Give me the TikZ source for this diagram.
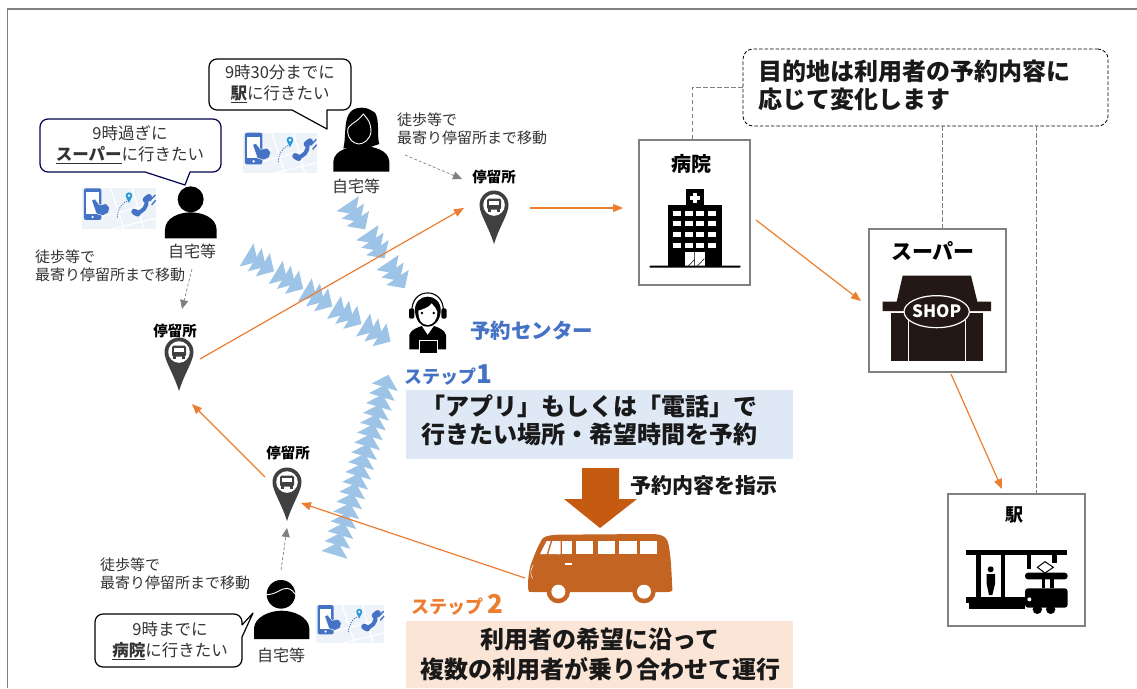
\documentclass[tikz,border=0pt]{standalone}
\usepackage{fontspec}
\setmainfont{Noto Sans CJK JP}
\usetikzlibrary{arrows.meta}
\definecolor{framegray}{HTML}{808080}
\definecolor{lineorange}{HTML}{ED7D31}
\definecolor{tribluecol}{HTML}{9DC3E6}
\definecolor{stepblue}{HTML}{4472C4}
\definecolor{boxblue}{HTML}{DEE9F5}
\definecolor{boxorange}{HTML}{FBE5D6}
\definecolor{busbrown}{HTML}{C46423}
\definecolor{arrowbrown}{HTML}{C55A11}
\definecolor{pindark}{HTML}{404040}
\definecolor{shopdark}{HTML}{231815}
\definecolor{txtdark}{HTML}{333333}
\definecolor{appbg}{HTML}{EEF3FA}
\definecolor{pinblue}{HTML}{2E9BD6}
\newcommand{\fs}[2]{\fontsize{#1}{#2}\selectfont}
\tikzset{
  x=1pt,y=-1pt,
  route/.style={draw=lineorange,line width=1.2pt,-{Triangle[length=10pt,width=8pt]}},
  walkline/.style={draw=framegray,line width=0.7pt,dash pattern=on 3pt off 2pt,-{Triangle[length=9pt,width=8pt]}},
  leader/.style={draw=framegray,line width=0.8pt,dash pattern=on 4.5pt off 2.5pt},
  bldg/.style={draw=framegray,line width=1.5pt,fill=white,inner sep=0pt},
  callout/.style={draw=#1,line width=1.2pt,fill=white,line join=round},
  saytext/.style={font=\fs{16.5}{21},text=txtdark,align=center,inner sep=0pt},
  walktext/.style={font=\fs{15}{18},text=txtdark,align=left,anchor=west,inner sep=0pt},
  hometext/.style={font=\fs{16}{20},text=txtdark,inner sep=0pt},
  stoptext/.style={font=\fs{14.5}{18}\bfseries,inner sep=0pt},
  bigtext/.style={font=\fs{24}{28}\bfseries,inner sep=0pt,align=center,text=black!90},
  pinmark/.style={circle,minimum size=29pt,inner sep=0pt},
}
\newcommand{\bluechain}[4]{%
  \foreach \d in {#4}{%
    \fill[tribluecol,shift={(#1,#2)},rotate=#3] (\d-4,-13.5) -- (\d+9,0) -- (\d-4,13.5) -- cycle;
  }}
\newcommand{\buspin}[3]{%
  \node[pinmark] (#1) at (#2,#3) {};
  \begin{scope}[shift={(#2,#3)}]
    \fill[pindark] (0,-14.5) .. controls (8,-14.5) and (14.5,-8) .. (14.5,0)
      .. controls (14.5,9) and (6,20) .. (0,39)
      .. controls (-6,20) and (-14.5,9) .. (-14.5,0)
      .. controls (-14.5,-8) and (-8,-14.5) .. (0,-14.5) -- cycle;
    \fill[white] (0,0) circle [radius=10.8];
    \fill[pindark,rounded corners=1.5pt] (-7,-6.5) rectangle (7,4.5);
    \fill[white] (-5,-4) rectangle (5,0);
    \fill[pindark] (-6,4) rectangle (-3,7);
    \fill[pindark] (3,4) rectangle (6,7);
  \end{scope}}
\newcommand{\appicon}[3]{%
  \begin{scope}[shift={(#1,#2)},scale=#3]
    \fill[appbg] (0,0) rectangle (220,122);
    \draw[white,line width=1.2pt] (85,0) -- (125,122) (150,0) -- (185,122) (60,85) -- (220,45) (90,122) -- (220,90);
    \fill[stepblue,rounded corners=2pt] (5,0) rectangle (57,95);
    \fill[white] (12,12) rectangle (50,77);
    \fill[white] (31,86) circle [radius=4];
    \fill[stepblue,draw=white,line width=0.5pt] (28,36) -- (38,32) -- (52,50) -- (72,46) -- (82,58) -- (78,74) -- (62,82) -- (42,76) -- cycle;
    \draw[stepblue,line width=0.8pt,dash pattern=on 1.2pt off 1.2pt] (105,88) .. controls (106,62) and (120,42) .. (136,38);
    \fill[pinblue] (140,22) circle [radius=10];
    \fill[pinblue] (132,28) -- (140,44) -- (148,28) -- cycle;
    \fill[white] (140,22) circle [radius=4];
    \draw[stepblue,line width=4pt,line cap=round] (193,35) .. controls (196,55) and (180,74) .. (160,74);
    \draw[stepblue,line width=6pt,line cap=round] (190,34) -- (200,26);
    \draw[stepblue,line width=6pt,line cap=round] (156,70) -- (166,76);
    \draw[stepblue,line width=1.4pt] (202,38) -- (219,20);
    \draw[stepblue,line width=1.4pt] (208,50) -- (220,36);
  \end{scope}}
\begin{document}
\begin{tikzpicture}
\useasboundingbox (0,0) rectangle (1137,688);
\fill[white] (0,0) rectangle (1137,688);
% frame
\draw[framegray,line width=1.6pt] (7.5,688) -- (7.5,9) -- (1137,9);

% signal chains
\bluechain{350}{207}{-56}{0,9,18,35,44,53,71,80,89}
\bluechain{250}{257}{-31}{0,9.5,19,34,43.5,53,68,77.5,87,102,111.5,121,136,145.5,155}
\bluechain{335.6}{551}{73.3}{0,10.3,20.6,30.9,41.2,51.5,61.8,72.1,82.4,92.7,103,113.3,123.6,133.9,144.2,154.5,164.8,175}

% stops
\buspin{pinT}{494}{205}
\buspin{pinL}{179}{352}
\buspin{pinB}{287}{482}
\node[stoptext] (lblT) at (494,177) {停留所};
\node[stoptext] (lblL) at (175,331) {停留所};
\node[stoptext] (lblB) at (288,453) {停留所};

% buildings
\node[bldg,minimum width=111pt,minimum height=145pt] (hosp) at (694.5,212.5) {};
\node[bldg,minimum width=137pt,minimum height=143pt] (sup) at (937.5,300.5) {};
\node[bldg,minimum width=137pt,minimum height=132pt] (sta) at (1016.5,560) {};
\node[font=\fs{20}{24}\bfseries,inner sep=0pt] (hospt) at (691,164) {病院};
\node[font=\fs{21}{25}\bfseries,inner sep=0pt] (supt) at (933,251) {スーパー};
\node[font=\fs{18}{22}\bfseries,inner sep=0pt] (stat) at (1014,515) {駅};

% hospital icon
\begin{scope}[shift={(620,130)},scale=1/3]
  \fill[black] (197,177) rectangle (253,226);
  \fill[black] (143,225) rectangle (307,408);
  \fill[white] (219,188) rectangle (231,218);
  \fill[white] (210,197) rectangle (240,209);
  \foreach \wx in {160,195,229,264}{\foreach \wy in {242,274,306,338}{
    \fill[white] (\wx,\wy) rectangle (\wx+24,\wy+15);}}
  \fill[white] (195,365) rectangle (255,408);
  \draw[black,line width=0.5pt] (224,365) -- (224,408) (205,408) -- (222,390) (232,408) -- (253,386);
  \fill[black,rounded corners=1pt] (88,407) rectangle (362,413);
\end{scope}

% shop icon
\begin{scope}[shift={(620,130)},scale=1/3]
  \fill[shopdark] (848,437) -- (1053,437) -- (1072,515) -- (1113,515) -- (1113,543) -- (788,543) -- (788,515) -- (830,515) -- cycle;
  \fill[shopdark] (813,549) rectangle (1088,694);
  \draw[white,line width=1pt] (866,570) -- (866,694) (1037,570) -- (1037,694);
  \filldraw[fill=shopdark,draw=white,line width=1.2pt] (950,545) ellipse [x radius=98,y radius=48];
  \node[text=white,font=\fs{17}{18}\bfseries,inner sep=0pt] (shopword) at (950,545) {SHOP};
\end{scope}

% station icon
\begin{scope}[shift={(930,480)},scale=1/3]
  \fill[black] (107,211) rectangle (410,226);
  \fill[black] (137,226) rectangle (152,352);
  \fill[black] (212,226) rectangle (226,352);
  \fill[black] (291,226) rectangle (304,268);
  \fill[black] (366,226) rectangle (380,248);
  \fill[black] (182,268) circle [radius=9];
  \fill[black] (170,282) -- (195,282) -- (195,312) -- (187,345) -- (177,345) -- (170,312) -- cycle;
  \fill[black] (107,352) rectangle (285,368);
  \fill[black] (118,368) rectangle (285,388);
  \fill[black,rounded corners=3pt] (285,278) rectangle (413,298);
  \draw[black,line width=1pt] (345,245) -- (370,262) -- (345,279) -- (322,262) -- cycle;
  \fill[black] (335,298) rectangle (345,325);
  \fill[black] (360,298) rectangle (372,325);
  \fill[black,rounded corners=3pt] (285,325) rectangle (413,383);
  \fill[white] (298,358) circle [radius=6];
  \fill[black] (322,388) circle [radius=14];
  \fill[black] (362,388) circle [radius=14];
\end{scope}

% destination note
\node[draw=black,line width=0.8pt,dash pattern=on 3.5pt off 2pt,rounded corners=10pt,minimum width=365pt,minimum height=77pt,inner sep=0pt] (note) at (925.5,87.5) {};
\node[font=\fs{24}{28}\bfseries,align=left,anchor=north west,inner sep=0pt,text=black!90] (notet) at (758,59.5) {目的地は利用者の予約内容に\\応じて変化します};
\coordinate (hn) at (692,140);
\coordinate (sn) at (942,229);
\coordinate (tn) at (1036,494);
\draw[leader] (note.west) -| (hn);
\draw[leader] (sn |- note.south) -- (sn);
\draw[leader] (tn |- note.south) -- (tn);

% people
\begin{scope}[shift={(0,40)},scale=1/3]
  \fill[black] (572,478) circle [radius=39];
  \fill[black] (495,595) -- (495,570) .. controls (495,532) and (540,517) .. (572,517) .. controls (605,517) and (650,532) .. (650,570) -- (650,595) -- cycle;
  % woman
  \fill[black] (1030,325) .. controls (1042,280) and (1022,203) .. (1085,203) .. controls (1105,203) and (1115,212) .. (1125,218) .. controls (1140,240) and (1130,290) .. (1138,312) -- (1100,325) -- cycle;
  \fill[black] (1000,395) -- (1000,365) .. controls (1002,330) and (1050,318) .. (1084,318) .. controls (1120,318) and (1166,330) .. (1168,365) -- (1168,395) -- cycle;
  \draw[white,line width=0.9pt] (1043,275) .. controls (1042,250) and (1065,255) .. (1090,222) .. controls (1105,240) and (1112,245) .. (1113,275) .. controls (1110,300) and (1090,312) .. (1076,312) .. controls (1060,310) and (1045,298) .. (1043,275);
\end{scope}
\begin{scope}[shift={(80,440)},scale=1/3]
  \fill[black] (603,463) circle [radius=43];
  \fill[black] (522,597) -- (522,565) .. controls (524,530) and (570,512) .. (605,512) .. controls (640,512) and (686,530) .. (688,565) -- (688,597) -- cycle;
  \draw[white,line width=0.9pt] (558,464) .. controls (590,464) and (600,445) .. (620,445) .. controls (635,445) and (640,458) .. (648,464);
\end{scope}
% operator
\begin{scope}[shift={(320,270)},scale=1/3]
  \draw[black,line width=1.1pt] (276,125) .. controls (272,50) and (374,50) .. (370,125);
  \fill[black] (285,125) .. controls (280,65) and (366,65) .. (362,125) .. controls (360,150) and (345,170) .. (323,170) .. controls (300,170) and (288,150) .. (285,125) -- cycle;
  \fill[white] (295,122) .. controls (305,118) and (325,115) .. (335,100) .. controls (342,110) and (350,115) .. (352,125) .. controls (352,150) and (340,165) .. (323,165) .. controls (305,165) and (295,150) .. (295,122) -- cycle;
  \fill[black] (306,129) circle [radius=4];
  \fill[black] (341,129) circle [radius=4];
  \fill[black,rounded corners=2pt] (267,115) rectangle (283,146);
  \fill[black,rounded corners=2pt] (364,115) rectangle (380,146);
  \fill[black] (268,238) -- (268,195) .. controls (272,178) and (295,172) .. (305,168) -- (323,195) -- (342,168) .. controls (352,172) and (374,178) .. (378,195) -- (378,238) -- cycle;
  \fill[black,draw=white,line width=0.6pt] (297,212) rectangle (353,250);
\end{scope}

% app icons
\appicon{82.3}{188.3}{1/3}
\appicon{243.3}{132.7}{1/3}
\appicon{316}{605}{0.309}

% speech bubbles
\draw[callout=black!70!blue] (145,172) -- (185,185) -- (190,172) [rounded corners=8pt] -- (221,172) -- (221,119) -- (40,119) -- (40,172) -- (145,172);
\draw[callout=black] (292,110) -- (327,129) -- (327,110) [rounded corners=8pt] -- (351,110) -- (351,59) -- (209,59) -- (209,110) -- (292,110);
\draw[callout=black] (242,625) -- (253,613) -- (242,637) [rounded corners=8pt] -- (242,667) -- (95,667) -- (95,614) -- (242,614) -- (242,625);
\node[saytext] (sayA) at (130,145) {9時過ぎに\\\underline{\textbf{スーパー}}に行きたい};
\node[saytext] (sayB) at (280,83.5) {9時30分までに\\\underline{\textbf{駅}}に行きたい};
\node[saytext] (sayC) at (170,640.5) {9時までに\\\underline{\textbf{病院}}に行きたい};

\node[hometext] (homeA) at (192,251) {自宅等};
\node[hometext] (homeB) at (356,186) {自宅等};
\node[hometext] (homeC) at (281,655) {自宅等};
\node[walktext] (walkA) at (35,265.5) {徒歩等で\\最寄り停留所まで移動};
\node[walktext] (walkB) at (397,128.5) {徒歩等で\\最寄り停留所まで移動};
\node[walktext] (walkC) at (100,574) {徒歩等で\\最寄り停留所まで移動};

% walking connectors
\coordinate (wa1) at (192,269); \coordinate (wa2) at (182,309);
\coordinate (wb1) at (405,155); \coordinate (wb2) at (462,179);
\coordinate (wc1) at (281,570); \coordinate (wc2) at (287,528);
\draw[walkline] (wa1) -- (wa2);
\draw[walkline] (wb1) -- (wb2);
\draw[walkline] (wc1) -- (wc2);

% routes
\coordinate (r1a) at (200,359); \coordinate (r1b) at (464,208);
\coordinate (r2a) at (530,208); \coordinate (r2b) at (623,208);
\coordinate (r3a) at (756,220); \coordinate (r3b) at (861,301);
\coordinate (r4a) at (951,374); \coordinate (r4b) at (1002,489);
\coordinate (r5a) at (525,578); \coordinate (r5b) at (301,503);
\coordinate (r6a) at (265,477); \coordinate (r6b) at (192,404);
\draw[route] (r1a) -- (r1b);
\draw[route] (r2a) -- (r2b);
\draw[route] (r3a) -- (r3b);
\draw[route] (r4a) -- (r4b);
\draw[route] (r5a) -- (r5b);
\draw[route] (r6a) -- (r6b);

% reservation centre
\node[font=\fs{20.5}{24}\bfseries,text=stepblue,inner sep=0pt,anchor=west] (center) at (470,331) {予約センター};
\node[font=\fs{18}{22}\bfseries,text=stepblue,inner sep=0pt,anchor=west] (step1) at (404,375) {ステップ{\fs{26}{26}1}};
\node[fill=boxblue,minimum width=387pt,minimum height=69pt,inner sep=0pt] (box1) at (599.5,424.5) {};
\node[bigtext] (box1t) at (589,420) {「アプリ」もしくは「電話」で\\行きたい場所・希望時間を予約};

% instruction arrow
\fill[arrowbrown] (582,468) -- (619,468) -- (619,499) -- (637,499) -- (600,528) -- (564,499) -- (582,499) -- cycle;
\node[font=\fs{21}{25}\bfseries,inner sep=0pt,anchor=west,text=black!90] (instr) at (630,486) {予約内容を指示};

% bus
\begin{scope}[shift={(320,270)},scale=1/3]
  \fill[busbrown] (625,960) .. controls (622,930) and (628,900) .. (632,885) .. controls (645,850) and (655,825) .. (668,805) .. controls (680,795) and (700,795) .. (720,794) -- (990,792) .. controls (1030,792) and (1042,800) .. (1047,830) .. controls (1055,880) and (1055,930) .. (1057,955) .. controls (1060,965) and (1050,966) .. (1040,966) -- (640,966) .. controls (630,966) and (622,966) .. (625,960) -- cycle;
  \fill[white] (660,852) -- (680,813) -- (692,813) -- (680,852) -- cycle;
  \fill[white] (685,852) -- (697,813) -- (722,813) -- (722,853) -- cycle;
  \fill[white] (727,813) rectangle (755,853);
  \fill[white] (768,813) rectangle (820,853);
  \fill[white] (833,813) rectangle (885,853);
  \fill[white] (898,813) rectangle (950,853);
  \fill[white] (960,813) rectangle (1012,853);
  \fill[white] (735,880) rectangle (755,885);
  \draw[white,line width=0.5pt] (640,885) .. controls (630,900) and (630,915) .. (638,925);
  \fill[busbrown] (715,965) circle [radius=35];
  \fill[white] (715,965) circle [radius=21];
  \fill[busbrown] (972,965) circle [radius=35];
  \fill[white] (972,965) circle [radius=21];
\end{scope}

\node[font=\fs{18}{22}\bfseries,text=lineorange,inner sep=0pt,anchor=west] (step2) at (411,605) {ステップ {\fs{26}{26}2}};
\node[fill=boxorange,minimum width=387pt,minimum height=67pt,inner sep=0pt] (box2) at (599.5,654.5) {};
\node[bigtext] (box2t) at (600,654) {利用者の希望に沿って\\[2pt]複数の利用者が乗り合わせて運行};
\end{tikzpicture}
\end{document}
